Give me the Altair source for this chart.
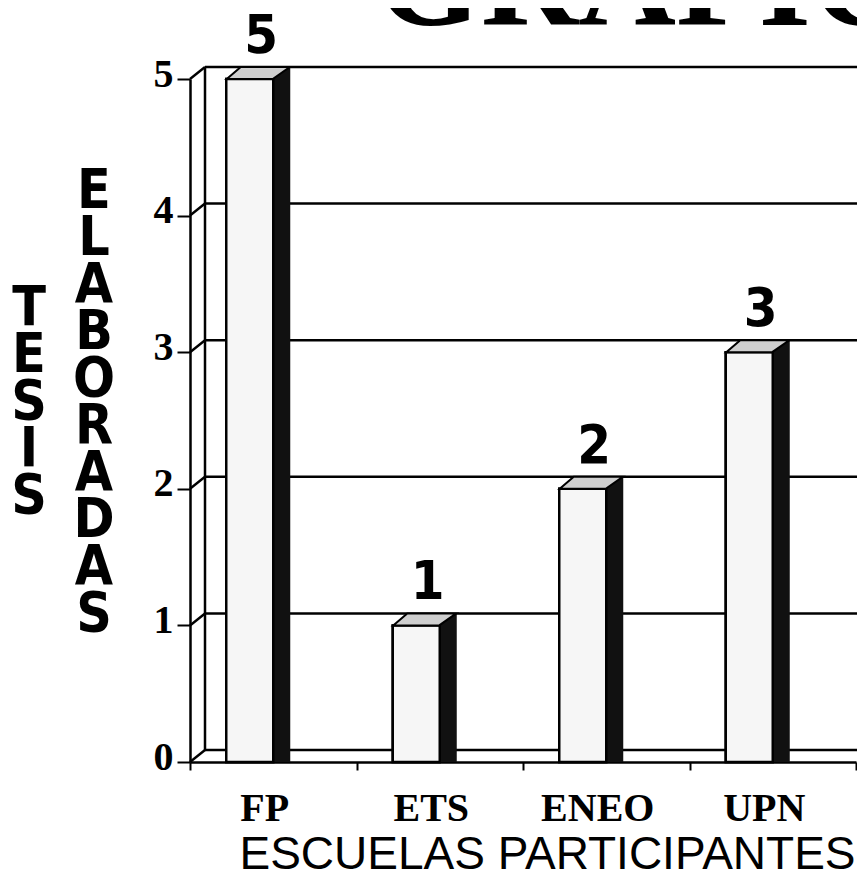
import altair as alt
import pandas as pd

# ---- data ----
escuelas = ["FP", "ETS", "ENEO", "UPN"]
tesis = [5, 1, 2, 3]
ticks = [0, 1, 2, 3, 4, 5]
titulo = "GRÁFICA"
eje_x = "ESCUELAS PARTICIPANTES"
eje_y1 = "ELABORADAS"
eje_y2 = "TESIS"

W, H = 666, 683
DEPTH_X, DEPTH_Y = 15, -12

bars = pd.DataFrame({"escuela": escuelas, "tesis": tesis})
grid = pd.DataFrame({"v": ticks})
wall = pd.DataFrame({"top": [max(ticks)], "bottom": [min(ticks)]})
one = pd.DataFrame({"k": [0]})

SERIF = "Liberation Serif, Times New Roman, serif"
NARROW = "Liberation Sans Narrow, Arial Narrow, DejaVu Sans Condensed, sans-serif"
SANS = "Liberation Sans, Arial, sans-serif"

X_AXIS = alt.Axis(tickBand="extent", labelAngle=0, labelFont=SERIF, labelFontWeight="bold",
                  labelFontSize=40, labelColor="black", labelBaseline="alphabetic",
                  labelPadding=50, labelOffset=-9, tickSize=8, tickColor="black",
                  tickWidth=2, domainColor="black", domainWidth=2.5, grid=False,
                  title=eje_x, titleFont=SANS, titleFontSize=46, titleFontWeight="normal",
                  titleColor="black", titleX=357, titleY=106, titleAlign="center",
                  titleBaseline="alphabetic")
Y_AXIS = alt.Axis(values=ticks, grid=False, labelFont=SERIF, labelFontWeight="bold",
                  labelFontSize=40, labelColor="black", labelPadding=4,
                  labelOffset=-5, tickSize=13, tickColor="black", tickWidth=2,
                  domainColor="black", domainWidth=2.5, title=None)


def Y(field):
    return alt.Y(field, type="quantitative",
                 scale=alt.Scale(domain=[0, 5], nice=False, zero=True),
                 axis=Y_AXIS, title=None)


def X():
    return alt.X("escuela:N", sort=escuelas,
                 scale=alt.Scale(paddingInner=0, paddingOuter=0),
                 axis=X_AXIS, title=eje_x)


# back wall gridlines (shifted for the 3-D depth)
back_grid = alt.Chart(grid).mark_rule(color="black", strokeWidth=2.5, yOffset=DEPTH_Y).encode(
    y=Y("v"), x=alt.value(DEPTH_X), x2=alt.value(W + DEPTH_X))

# left wall diagonals
diag = alt.Chart(grid).mark_rule(color="black", strokeWidth=2.5, y2Offset=DEPTH_Y).encode(
    y=Y("v"), y2="v:Q", x=alt.value(0), x2=alt.value(DEPTH_X))

# back wall left edge
wall_edge = alt.Chart(wall).mark_rule(color="black", strokeWidth=2.5,
                                      yOffset=DEPTH_Y, y2Offset=DEPTH_Y).encode(
    y=Y("top"), y2="bottom:Q", x=alt.value(DEPTH_X))

# dark side face of each bar
side = alt.Chart(bars).mark_bar(color="#111111", width=17, xOffset=8.5,
                                yOffset=DEPTH_Y).encode(
    x=X(), y=Y("tesis"), y2=alt.datum(0))

# front face of each bar
front = alt.Chart(bars).mark_bar(fill="#f6f6f6", stroke="black", strokeWidth=2.5,
                                 width=47, xOffset=-23.5).encode(
    x=X(), y=Y("tesis"), y2=alt.datum(0))

# top face (parallelogram)
top_face = alt.Chart(bars).mark_point(
    shape="M -1 0.19 L 0.46 0.19 L 1 -0.19 L -0.556 -0.19 Z",
    filled=True, fill="#cfcfcf", stroke="black", strokeWidth=2, opacity=1,
    size=63 * 63, xOffset=-15, yOffset=-6).encode(
    x=X(), y=Y("tesis"))

# value labels above bars
labels = alt.Chart(bars).mark_text(font=NARROW, fontWeight="bold", fontSize=54,
                                   baseline="alphabetic", align="center",
                                   dx=-12, dy=-26, color="black").encode(
    x=X(), y=Y("tesis"), text="tesis:Q")

# stacked vertical axis captions
cap1 = alt.Chart(one).mark_text(font=NARROW, fontSize=55, fontWeight="bold", baseline="top",
                                align="center", lineBreak="\n", lineHeight=47,
                                color="black").encode(
    x=alt.value(-96), y=alt.value(86), text=alt.value("\n".join(list(eje_y1))))
cap2 = alt.Chart(one).mark_text(font=NARROW, fontSize=55, fontWeight="bold", baseline="top",
                                align="center", lineBreak="\n", lineHeight=47,
                                color="black").encode(
    x=alt.value(-161), y=alt.value(203), text=alt.value("\n".join(list(eje_y2))))

# big title, mostly cut off at the top
title = alt.Chart(one).mark_text(font=SERIF, fontWeight="bold", fontSize=135,
                                 baseline="alphabetic", align="left", color="black").encode(
    x=alt.value(186), y=alt.value(-54), text=alt.value(titulo))

chart = alt.layer(front, back_grid, diag, wall_edge, side, front, top_face, labels,
                  cap1, cap2, title).properties(
    width=W, height=H,
    autosize=alt.AutoSizeParams(type="none"),
    padding={"left": 182, "top": 71, "right": 1, "bottom": 116},
    background="white",
).configure_view(stroke=None)

chart.save("out.html", embed_options={"renderer": "svg", "actions": False})
